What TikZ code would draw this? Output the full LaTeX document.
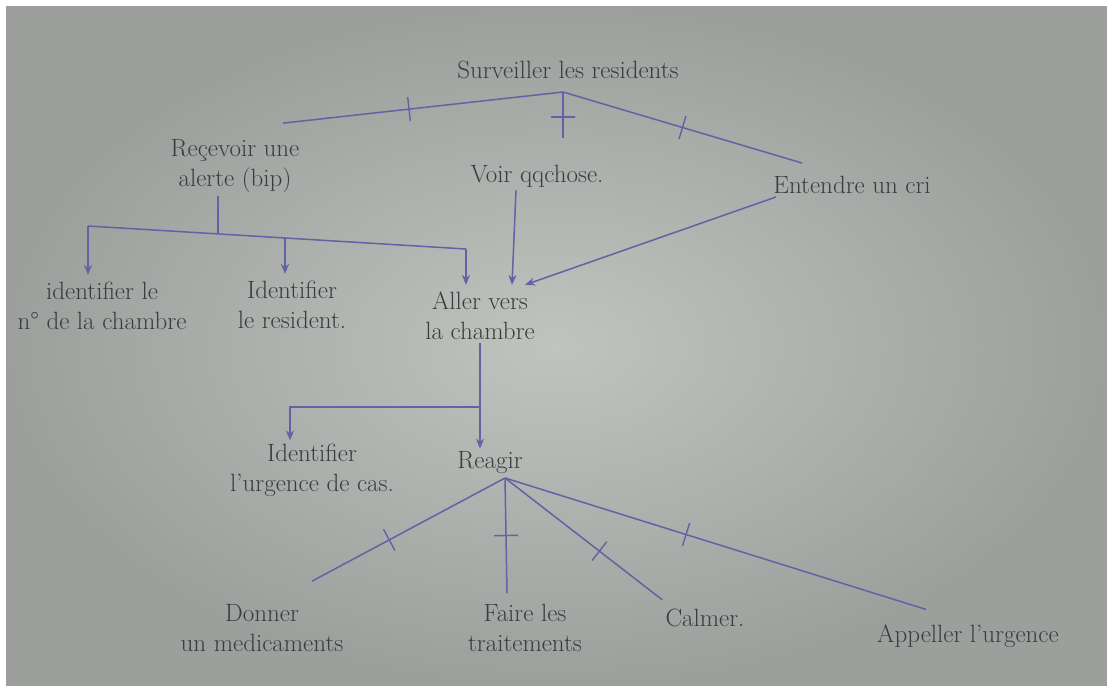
\documentclass[tikz,border=0pt]{standalone}
\usetikzlibrary{arrows, arrows.meta}
\definecolor{paperlight}{RGB}{192,195,190}
\definecolor{paperdark}{RGB}{156,159,156}
\definecolor{pencil}{RGB}{58,60,64}
\definecolor{ink}{RGB}{98,98,164}
\tikzstyle{task} = [text=pencil, 
align=center, 
font=\fontsize{25}{30}\selectfont, 
inner sep=3pt]
\tikzstyle{link} = [draw=ink, line width=1.5pt]
\tikzstyle{arrow} = [draw=ink, line width=1.5pt, ->, >={Stealth[length=10pt, width=8pt]}]
\tikzstyle{crossbar} = [draw=ink, line width=1.4pt, sloped, 
minimum width=0pt, 
minimum height=24pt, 
inner sep=0pt]
\begin{document}
\begin{tikzpicture}[x=1pt, y=-1pt, node distance=140pt]

\useasboundingbox (0,0) rectangle (1107,685);
\fill [white] (0,0) rectangle (1107,685);
\shade [inner color=paperlight, outer color=paperdark] (6,7) rectangle (1107,685);

\node (surv) [task] at (568,70) {Surveiller les residents};

\node (recv) [task, below of=surv, xshift=-333pt, yshift=44pt] {Reçevoir une\\alerte (bip)};

\node (voir) [task, below of=surv, xshift=-31pt, yshift=34pt] {Voir qqchose.};

\node (ent) [task, below of=surv, xshift=284pt, yshift=25pt] {Entendre un cri};

\node (idch) [task, below of=recv, xshift=-133pt, yshift=0pt] {identifier le\\n° de la chambre};

\node (idres) [task, below of=recv, xshift=57pt, yshift=1pt] {Identifier\\le resident.};

\node (aller) [task, below of=voir, xshift=-57pt, yshift=0pt] {Aller vers\\la chambre};

\node (reag) [task, below of=aller, xshift=10pt, yshift=-7pt] {Reagir};

\node (idurg) [task, below of=aller, xshift=-168pt, yshift=-14pt] {Identifier\\l'urgence de cas.};

\node (donner) [task, below of=reag, xshift=-228pt, yshift=-25pt] {Donner\\un medicaments};

\node (faire) [task, below of=reag, xshift=35pt, yshift=-25pt] {Faire les\\traitements};

\node (calmer) [task, below of=reag, xshift=215pt, yshift=-15pt] {Calmer.};

\node (appel) [task, below of=reag, xshift=478pt, yshift=-33pt] {Appeller l'urgence};

% junction points
\coordinate (apex) at (563,92);
\coordinate (barL) at (88,226);
\coordinate (barJ) at (218,234);
\coordinate (barM) at (285,238);
\coordinate (barR) at (466,249);
\coordinate (split) at (480,407);
\coordinate (hub) at (505,478);
\path (apex |- voir.north) ++(0,-24) coordinate (voirtop);

\draw [link] (apex) -- ([xshift=48pt, yshift=13pt]recv.north) node [crossbar, pos=0.55] {};

\draw [link] (apex) -- (voirtop) node [crossbar, pos=0.55] {};

\draw [link] (apex) -- ([xshift=-50pt, yshift=10pt]ent.north) node [crossbar, pos=0.5] {};

\draw [link] ([xshift=-17pt]recv.south) -- (barJ);

\draw [link] (barL) -- (barR);

\draw [arrow] (barL) -- ([yshift=4pt]barL |- idch.north);

\draw [arrow] (barM) -- ([yshift=4pt]barM |- idres.north);

\draw [arrow] (barR) -- ([yshift=4pt]barR |- aller.north);

\draw [arrow] ([xshift=-21pt]voir.south) -- ([xshift=32pt, yshift=4pt]aller.north);

\draw [arrow] ([xshift=-76pt]ent.south) -- ([xshift=45pt, yshift=4pt]aller.north);

\draw [arrow] (aller.south) -- (aller.south |- reag.north);

\draw [arrow] (split) -| ([xshift=-22pt]idurg.north);

\draw [link] (hub) -- ([xshift=50pt, yshift=20pt]donner.north) node [crossbar, pos=0.6] {};

\draw [link] (hub) -- ([xshift=-18pt, yshift=8pt]faire.north) node [crossbar, pos=0.5] {};

\draw [link] (hub) -- ([yshift=6pt]calmer.north west) node [crossbar, pos=0.6] {};

\draw [link] (hub) -- ([xshift=-42pt, yshift=12pt]appel.north) node [crossbar, pos=0.43] {};

\end{tikzpicture}
\end{document}
